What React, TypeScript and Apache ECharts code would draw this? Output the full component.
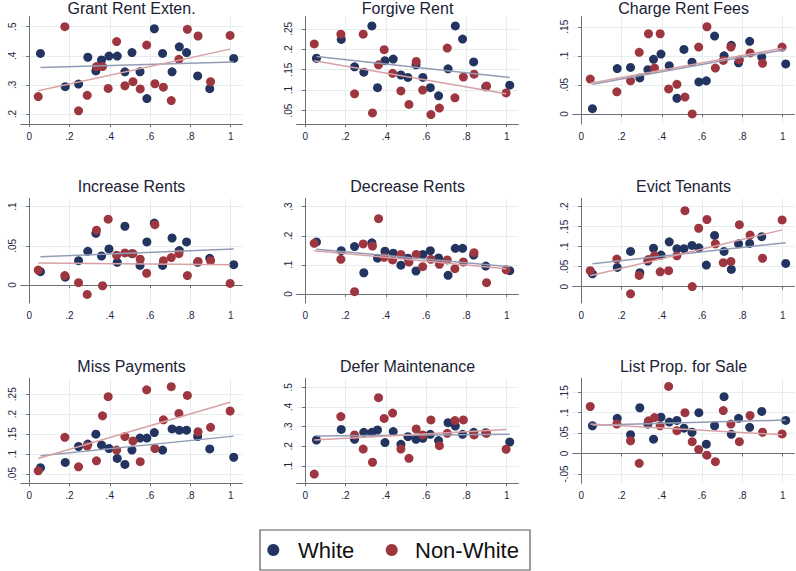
import React, { useEffect, useRef } from "react";
import * as echarts from "echarts";

// ---- shared x positions ----
const xWhite = [0.056, 0.179, 0.245, 0.291, 0.331, 0.359, 0.396, 0.437, 0.475, 0.51, 0.55, 0.584, 0.621, 0.662, 0.709, 0.745, 0.781, 0.836, 0.896, 1.015];
const xNonWhite = [0.045, 0.177, 0.245, 0.288, 0.334, 0.364, 0.392, 0.434, 0.475, 0.515, 0.551, 0.583, 0.624, 0.666, 0.705, 0.743, 0.785, 0.838, 0.9, 0.997];
const xTicks = [0, 0.2, 0.4, 0.6, 0.8, 1];

const titles = [
  "Grant Rent Exten.", "Forgive Rent", "Charge Rent Fees",
  "Increase Rents", "Decrease Rents", "Evict Tenants",
  "Miss Payments", "Defer Maintenance", "List Prop. for Sale",
];
const legendNames = ["White", "Non-White"];

// ---- panel values ----
const grantWhite = [0.408, 0.294, 0.303, 0.395, 0.348, 0.386, 0.399, 0.399, 0.345, 0.411, 0.345, 0.253, 0.493, 0.408, 0.345, 0.431, 0.411, 0.331, 0.287, 0.391];
const grantNonWhite = [0.26, 0.5, 0.211, 0.264, 0.363, 0.363, 0.288, 0.449, 0.297, 0.311, 0.286, 0.437, 0.304, 0.292, 0.246, 0.388, 0.491, 0.468, 0.311, 0.47];
const grantFitWhite = [0.36, 0.379];
const grantFitNonWhite = [0.28, 0.423];
const grantTicks = [0.2, 0.3, 0.4, 0.5];

const forgiveWhite = [0.178, 0.224, 0.157, 0.144, 0.257, 0.106, 0.172, 0.176, 0.137, 0.131, 0.162, 0.131, 0.106, 0.086, 0.152, 0.257, 0.225, 0.169, 0.108, 0.112];
const forgiveNonWhite = [0.213, 0.237, 0.091, 0.237, 0.044, 0.162, 0.199, 0.141, 0.098, 0.065, 0.17, 0.1, 0.04, 0.056, 0.203, 0.081, 0.132, 0.139, 0.11, 0.093];
const forgiveFitWhite = [0.182, 0.131];
const forgiveFitNonWhite = [0.172, 0.091];
const forgiveTicks = [0.05, 0.1, 0.15, 0.2, 0.25];

const chargeWhite = [0.009, 0.078, 0.08, 0.062, 0.076, 0.094, 0.103, 0.083, 0.027, 0.111, 0.089, 0.055, 0.057, 0.134, 0.1, 0.118, 0.088, 0.125, 0.098, 0.086];
const chargeNonWhite = [0.06, 0.038, 0.057, 0.106, 0.138, 0.079, 0.138, 0.043, 0.051, 0.029, 0.0, 0.115, 0.15, 0.079, 0.092, 0.115, 0.093, 0.105, 0.087, 0.115];
const chargeFitWhite = [0.051, 0.111];
const chargeFitNonWhite = [0.053, 0.113];
const chargeTicks = [0, 0.05, 0.1, 0.15];

const increaseWhite = [0.017, 0.01, 0.031, 0.043, 0.066, 0.037, 0.046, 0.029, 0.075, 0.04, 0.025, 0.055, 0.079, 0.025, 0.06, 0.044, 0.055, 0.029, 0.034, 0.026];
const increaseNonWhite = [0.019, 0.012, 0.003, -0.012, 0.07, -0.001, 0.084, 0.038, 0.041, 0.04, 0.033, 0.015, 0.077, 0.031, 0.035, 0.04, 0.012, 0.03, 0.031, 0.002];
const increaseFitWhite = [0.036, 0.046];
const increaseFitNonWhite = [0.028, 0.026];
const increaseTicks = [0, 0.05, 0.1];

const decreaseWhite = [0.179, 0.149, 0.163, 0.073, 0.176, 0.123, 0.147, 0.14, 0.099, 0.123, 0.079, 0.136, 0.149, 0.124, 0.064, 0.157, 0.157, 0.134, 0.096, 0.08];
const decreaseNonWhite = [0.174, 0.119, 0.008, 0.172, 0.165, 0.259, 0.126, 0.117, 0.136, 0.11, 0.136, 0.094, 0.119, 0.102, 0.117, 0.087, 0.11, 0.142, 0.039, 0.083];
const decreaseFitWhite = [0.154, 0.094];
const decreaseFitNonWhite = [0.149, 0.087];
const decreaseTicks = [0, 0.1, 0.2, 0.3];

const evictWhite = [0.032, 0.048, 0.088, 0.035, 0.064, 0.096, 0.079, 0.112, 0.095, 0.095, 0.103, 0.097, 0.054, 0.128, 0.088, 0.043, 0.107, 0.108, 0.125, 0.058];
const evictNonWhite = [0.04, 0.069, -0.018, 0.028, 0.068, 0.077, 0.037, 0.04, 0.077, 0.19, 0.0, 0.146, 0.168, 0.107, 0.06, 0.063, 0.155, 0.129, 0.071, 0.167];
const evictFitWhite = [0.057, 0.11];
const evictFitNonWhite = [0.027, 0.142];
const evictTicks = [0, 0.05, 0.1, 0.15, 0.2];

const missWhite = [0.066, 0.079, 0.119, 0.125, 0.15, 0.123, 0.114, 0.089, 0.074, 0.11, 0.14, 0.14, 0.154, 0.11, 0.163, 0.16, 0.16, 0.144, 0.113, 0.092];
const missNonWhite = [0.058, 0.142, 0.068, 0.12, 0.083, 0.196, 0.244, 0.11, 0.144, 0.133, 0.081, 0.261, 0.114, 0.186, 0.269, 0.202, 0.247, 0.156, 0.167, 0.208];
const missFitWhite = [0.096, 0.145];
const missFitNonWhite = [0.089, 0.23];
const missTicks = [0.05, 0.1, 0.15, 0.2, 0.25];

const deferWhite = [0.232, 0.286, 0.236, 0.271, 0.271, 0.283, 0.219, 0.275, 0.21, 0.249, 0.236, 0.241, 0.261, 0.229, 0.32, 0.303, 0.261, 0.271, 0.269, 0.222];
const deferNonWhite = [0.059, 0.351, 0.258, 0.186, 0.119, 0.447, 0.342, 0.369, 0.186, 0.139, 0.288, 0.258, 0.334, 0.203, 0.266, 0.331, 0.334, 0.258, 0.266, 0.185];
const deferFitWhite = [0.253, 0.261];
const deferFitNonWhite = [0.232, 0.286];
const deferTicks = [0.1, 0.2, 0.3, 0.4, 0.5];

const listWhite = [0.068, 0.086, 0.046, 0.112, 0.072, 0.035, 0.089, 0.077, 0.081, 0.062, 0.052, 0.1, 0.023, 0.068, 0.139, 0.047, 0.086, 0.064, 0.103, 0.081];
const listNonWhite = [0.115, 0.072, 0.031, -0.024, 0.08, 0.088, 0.068, 0.164, 0.056, 0.1, 0.029, 0.01, -0.004, -0.02, 0.105, 0.072, 0.029, 0.093, 0.052, 0.048];
const listFitWhite = [0.069, 0.082];
const listFitNonWhite = [0.072, 0.046];
const listTicks = [-0.05, 0, 0.05, 0.1, 0.15];

const panelWhite = [grantWhite, forgiveWhite, chargeWhite, increaseWhite, decreaseWhite, evictWhite, missWhite, deferWhite, listWhite];
const panelNonWhite = [grantNonWhite, forgiveNonWhite, chargeNonWhite, increaseNonWhite, decreaseNonWhite, evictNonWhite, missNonWhite, deferNonWhite, listNonWhite];
const panelFitWhite = [grantFitWhite, forgiveFitWhite, chargeFitWhite, increaseFitWhite, decreaseFitWhite, evictFitWhite, missFitWhite, deferFitWhite, listFitWhite];
const panelFitNonWhite = [grantFitNonWhite, forgiveFitNonWhite, chargeFitNonWhite, increaseFitNonWhite, decreaseFitNonWhite, evictFitNonWhite, missFitNonWhite, deferFitNonWhite, listFitNonWhite];
const panelTicks = [grantTicks, forgiveTicks, chargeTicks, increaseTicks, decreaseTicks, evictTicks, missTicks, deferTicks, listTicks];

// ---- layout (pixels) and axis extents ----
const colLeft = [20.7, 296.7, 572.7];
const rowTop = [16.7, 198.3, 378.3];
const rowBottom = [124, 303, 483.3];
const titleTop = [0, 178.6, 358.6];
const gridWidth = 221.7;
const xMin = -0.042;
const xMax = 1.058;
const yMin = [0.1656, 0.017, -0.0173, -0.023, -0.031, -0.041, 0.0267, 0.012, -0.0728];
const yMax = [0.5344, 0.2797, 0.1673, 0.1107, 0.3289, 0.221, 0.29, 0.5457, 0.184];

const NAVY = "#22345f";
const MAROON = "#9e3640";
const FIT_NAVY = "#939cb6";
const FIT_MAROON = "#d8a1a6";
const FONT = "Liberation Sans, Arial, sans-serif";
const LABEL = "#1c2640";

const fmt = (v: number) => {
  const s = parseFloat(Number(v).toFixed(3)).toString();
  return s.replace(/^(-?)0\./, "$1.");
};

export default function App() {
  const ref = useRef<HTMLDivElement>(null);

  useEffect(() => {
    document.body.style.margin = "0";
    if (!ref.current) return;
    const chart = echarts.init(ref.current, undefined, { renderer: "svg" });

    const grids: any[] = [];
    const xAxes: any[] = [];
    const yAxes: any[] = [];
    const series: any[] = [];
    const title: any[] = [];

    for (let i = 0; i < 9; i++) {
      const r = Math.floor(i / 3);
      const c = i % 3;
      grids.push({
        left: colLeft[c],
        top: rowTop[r],
        width: gridWidth,
        height: rowBottom[r] - rowTop[r],
        containLabel: false,
      });
      title.push({
        text: titles[i],
        left: colLeft[c] + gridWidth / 2,
        top: titleTop[r],
        textAlign: "center",
        padding: 0,
        textStyle: { fontSize: 16, fontWeight: "normal", color: "#1b2235", fontFamily: FONT },
      });
      xAxes.push({
        gridIndex: i,
        type: "value",
        min: xMin,
        max: xMax,
        axisLine: { show: true, lineStyle: { color: "#6b6f78", width: 1 } },
        axisTick: { show: true, length: 3, customValues: xTicks, lineStyle: { color: "#6b6f78" } },
        axisLabel: { customValues: xTicks, formatter: fmt, fontSize: 10, color: LABEL, margin: 7, fontFamily: FONT },
        splitLine: { show: true, lineStyle: { color: "#e5edef", width: 1 } },
      });
      yAxes.push({
        gridIndex: i,
        type: "value",
        min: yMin[i],
        max: yMax[i],
        axisLine: { show: true, lineStyle: { color: "#6b6f78", width: 1 } },
        axisTick: { show: true, length: 3, customValues: panelTicks[i], lineStyle: { color: "#6b6f78" } },
        axisLabel: { customValues: panelTicks[i], formatter: fmt, fontSize: 10, color: LABEL, margin: 3, rotate: 90, fontFamily: FONT },
        splitLine: { show: true, lineStyle: { color: "#e5edef", width: 1 } },
      });
      series.push({
        name: legendNames[0],
        type: "scatter",
        xAxisIndex: i,
        yAxisIndex: i,
        symbolSize: 9,
        itemStyle: { color: NAVY, opacity: 1 },
        data: xWhite.map((x, j) => [x, panelWhite[i][j]]),
        z: 2,
      });
      series.push({
        name: legendNames[1],
        type: "scatter",
        xAxisIndex: i,
        yAxisIndex: i,
        symbolSize: 9,
        itemStyle: { color: MAROON, opacity: 1 },
        data: xNonWhite.map((x, j) => [x, panelNonWhite[i][j]]),
        z: 3,
      });
      series.push({
        type: "line",
        xAxisIndex: i,
        yAxisIndex: i,
        symbol: "none",
        lineStyle: { color: FIT_NAVY, width: 1.5 },
        data: [
          [xWhite[0], panelFitWhite[i][0]],
          [xWhite[xWhite.length - 1], panelFitWhite[i][1]],
        ],
        z: 4,
      });
      series.push({
        type: "line",
        xAxisIndex: i,
        yAxisIndex: i,
        symbol: "none",
        lineStyle: { color: FIT_MAROON, width: 1.5 },
        data: [
          [xNonWhite[0], panelFitNonWhite[i][0]],
          [xNonWhite[xNonWhite.length - 1], panelFitNonWhite[i][1]],
        ],
        z: 4,
      });
    }

    const graphic: any[] = [
      { type: "rect", shape: { x: 260, y: 530, width: 270, height: 40 }, style: { fill: "#ffffff", stroke: "#5a5a5a", lineWidth: 1.2 } },
      { type: "circle", shape: { cx: 273.3, cy: 550, r: 6 }, style: { fill: NAVY } },
      { type: "text", x: 298, y: 550.8, style: { text: legendNames[0], fontSize: 22, fontFamily: FONT, fill: "#111111", textVerticalAlign: "middle", textAlign: "left" } },
      { type: "circle", shape: { cx: 391.7, cy: 550, r: 6 }, style: { fill: MAROON } },
      { type: "text", x: 415, y: 550.8, style: { text: legendNames[1], fontSize: 22, fontFamily: FONT, fill: "#111111", textVerticalAlign: "middle", textAlign: "left" } },
    ];

    chart.setOption({
      animation: false,
      backgroundColor: "#ffffff",
      title,
      grid: grids,
      xAxis: xAxes,
      yAxis: yAxes,
      series,
      graphic,
    });

    return () => chart.dispose();
  }, []);

  return <div ref={ref} style={{ width: 796, height: 571 }} />;
}
